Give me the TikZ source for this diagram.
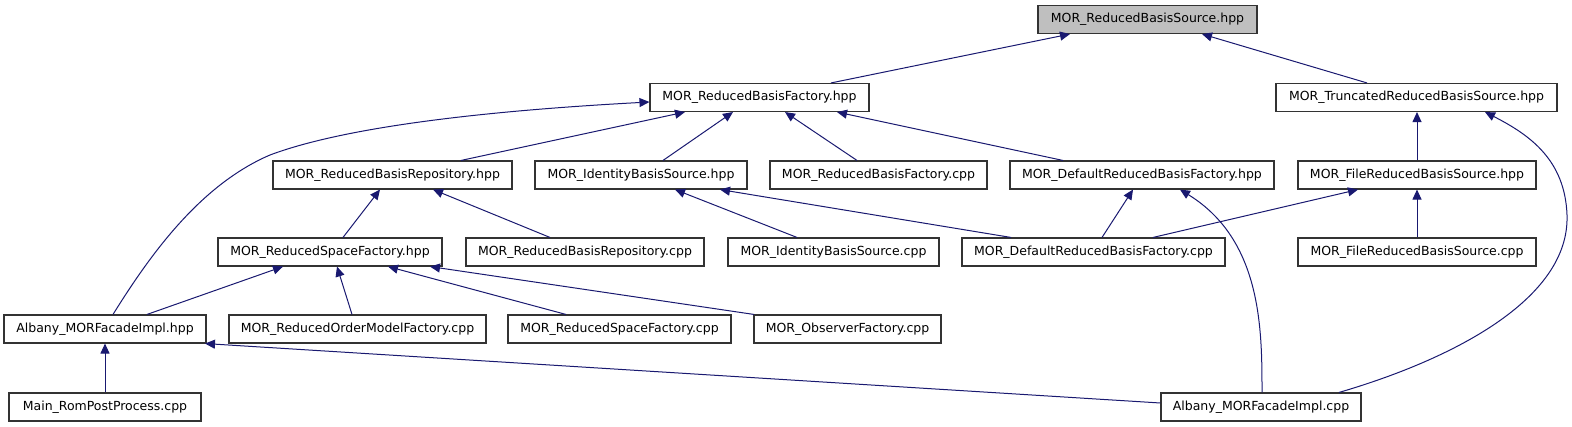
\documentclass[tikz,border=0pt]{standalone}
\usepackage{fontspec}
\setmainfont{DejaVu Sans}
\usetikzlibrary{arrows.meta}
\definecolor{edgeblue}{HTML}{191970}
\definecolor{rootgray}{HTML}{BFBFBF}

\begin{document}
\begin{tikzpicture}[
  x=1pt, y=-1pt,
  font=\fontsize{12.5}{14}\selectfont,
  file/.style={
    rectangle, draw=black!80, fill=white, line width=1.1pt,
    minimum height=28pt, inner sep=0pt, align=center
  },
  root/.style={file, fill=rootgray},
  incl/.style={-{Triangle[length=10pt, width=9pt]}, edgeblue, line width=1pt},
]
\useasboundingbox (0,0) rectangle (1572,427);

% Row 0: the header itself
\node[root, minimum width=219pt] (rbs) at (1147.5,19.5) {MOR\_ReducedBasisSource.hpp};

% Row 1
\node[file, minimum width=219pt] (rbf)  at (759.5,97.5)  {MOR\_ReducedBasisFactory.hpp};
\node[file, minimum width=281pt] (trbs) at (1416.5,97.5) {MOR\_TruncatedReducedBasisSource.hpp};

% Row 2
\node[file, minimum width=239pt] (repoh) at (392.5,175) {MOR\_ReducedBasisRepository.hpp};
\node[file, minimum width=212pt] (ibsh)  at (641,175)   {MOR\_IdentityBasisSource.hpp};
\node[file, minimum width=217pt] (rbfc)  at (878.5,175) {MOR\_ReducedBasisFactory.cpp};
\node[file, minimum width=264pt] (drbfh) at (1142,175)  {MOR\_DefaultReducedBasisFactory.hpp};
\node[file, minimum width=238pt] (frbsh) at (1417,175)  {MOR\_FileReducedBasisSource.hpp};

% Row 3
\node[file, minimum width=224pt] (rsfh)  at (330,252)    {MOR\_ReducedSpaceFactory.hpp};
\node[file, minimum width=238pt] (repoc) at (585,252)    {MOR\_ReducedBasisRepository.cpp};
\node[file, minimum width=211pt] (ibsc)  at (833.5,252)  {MOR\_IdentityBasisSource.cpp};
\node[file, minimum width=263pt] (drbfc) at (1093.5,252) {MOR\_DefaultReducedBasisFactory.cpp};
\node[file, minimum width=238pt] (frbsc) at (1417,252)   {MOR\_FileReducedBasisSource.cpp};

% Row 4
\node[file, minimum width=202pt] (amfih) at (105,329)   {Albany\_MORFacadeImpl.hpp};
\node[file, minimum width=257pt] (romf)  at (357.5,329) {MOR\_ReducedOrderModelFactory.cpp};
\node[file, minimum width=223pt] (rsfc)  at (619.5,329) {MOR\_ReducedSpaceFactory.cpp};
\node[file, minimum width=187pt] (obsf)  at (847.5,329) {MOR\_ObserverFactory.cpp};

% Row 5
\node[file, minimum width=192pt] (mainr) at (105,407)  {Main\_RomPostProcess.cpp};
\node[file, minimum width=200pt] (amfic) at (1261,407) {Albany\_MORFacadeImpl.cpp};

% Into the root header
\draw[incl] ([xshift=71.5pt]rbf.north) -- ([xshift=-77.5pt]rbs.south);
\draw[incl] ([xshift=-49.5pt]trbs.north) -- ([xshift=54.5pt]rbs.south);

% Into MOR_ReducedBasisFactory.hpp
\draw[incl] ([xshift=68.5pt]repoh.north) -- ([xshift=-74.5pt]rbf.south);
\draw[incl] ([xshift=8pt]amfih.north)
  .. controls (150,255) and (200,185) .. (270,155)
  .. controls (350,125) and (500,110) .. ([yshift=-4.5pt]rbf.west);
\draw[incl] ([xshift=22pt]ibsh.north) -- ([xshift=-26.5pt]rbf.south);
\draw[incl] ([xshift=-21.5pt]rbfc.north) -- ([xshift=25.5pt]rbf.south);
\draw[incl] ([xshift=-79pt]drbfh.north) -- ([xshift=77.5pt]rbf.south);

% Into MOR_TruncatedReducedBasisSource.hpp
\draw[incl] (frbsh.north) -- (frbsh.north |- trbs.south);
\draw[incl] ([xshift=78pt]amfic.north)
  .. controls (1450,360) and (1570,300) .. (1567,215)
  .. controls (1565,160) and (1530,135) .. ([xshift=68.5pt]trbs.south);

% Row 3 -> row 2
\draw[incl] ([xshift=13pt]rsfh.north) -- ([xshift=-12.5pt]repoh.south);
\draw[incl] ([xshift=-35pt]repoc.north) -- ([xshift=40.5pt]repoh.south);
\draw[incl] ([xshift=-36.5pt]ibsc.north) -- ([xshift=34pt]ibsh.south);
\draw[incl] ([xshift=-82.5pt]drbfc.north) -- ([xshift=79pt]ibsh.south);
\draw[incl] ([xshift=8.5pt]drbfc.north) -- ([xshift=-9pt]drbfh.south);
\draw[incl] ([xshift=59.5pt]drbfc.north) -- ([xshift=-59pt]frbsh.south);
\draw[incl] (frbsc.north) -- (frbsc.north |- frbsh.south);
\draw[incl] ([xshift=1pt]amfic.north)
  .. controls (1262,330) and (1262,240) .. ([xshift=38pt]drbfh.south);

% Row 4 -> MOR_ReducedSpaceFactory.hpp
\draw[incl] ([xshift=42pt]amfih.north) -- ([xshift=-47pt]rsfh.south);
\draw[incl] ([xshift=-5.5pt]romf.north) -- ([xshift=7pt]rsfh.south);
\draw[incl] ([xshift=-53.5pt]rsfc.north) -- ([xshift=58pt]rsfh.south);
\draw[incl] ([xshift=-93.5pt]obsf.north) -- ([xshift=100pt]rsfh.south);

% Into Albany_MORFacadeImpl.hpp
\draw[incl] (mainr.north) -- (amfih.south);
\draw[incl] ([yshift=4pt]amfic.west) -- ([xshift=100pt]amfih.south);

\end{tikzpicture}
\end{document}
